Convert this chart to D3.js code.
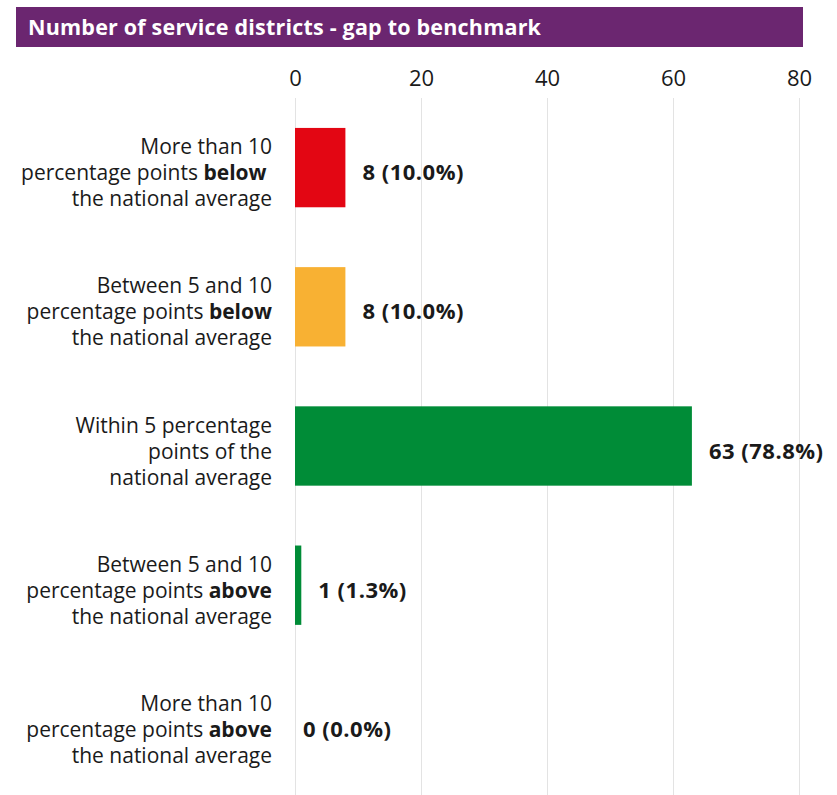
<!DOCTYPE html>
<html>
<head>
<meta charset="utf-8">
<script src="https://cdn.jsdelivr.net/npm/d3@7"></script>
<style>
  body { margin: 0; background: #fff; }
  text { font-family: "Open Sans", sans-serif; fill: #1a1a1a; }
</style>
</head>
<body>
<svg id="chart"></svg>
<script>
var width = 837, height = 795;

// categories: lines of text, *word* marks the bold part
var categories = [
  ["More than 10", "percentage points *below* ", "the national average"],
  ["Between 5 and 10", "percentage points *below*", "the national average"],
  ["Within 5 percentage", "points of the", "national average"],
  ["Between 5 and 10", "percentage points *above*", "the national average"],
  ["More than 10", "percentage points *above*", "the national average"]
];
var counts = [8, 8, 63, 1, 0];
var shares = ["10.0%", "10.0%", "78.8%", "1.3%", "0.0%"];
var colors = ["#e30613", "#f8b133", "#008c37", "#008c37", "#008c37"];
var ticks = [0, 20, 40, 60, 80];
var title = "Number of service districts - gap to benchmark";

var svg = d3.select("#chart").attr("width", width).attr("height", height);

// title bar
svg.append("rect")
  .attr("x", 16).attr("y", 7)
  .attr("width", 787).attr("height", 40)
  .attr("fill", "#6b2670");
svg.append("text")
  .attr("x", 28).attr("y", 35)
  .style("fill", "#fff")
  .style("font-weight", "bold")
  .style("font-size", "21.5px")
  .style("letter-spacing", "0.2px")
  .text(title);

var xScale = d3.scaleLinear().domain([0, 80]).range([295, 799]);
var yScale = d3.scaleBand().domain(d3.range(categories.length))
  .range([98, 794]).paddingInner(0.43).paddingOuter(0.215);

// gridlines
svg.append("g").selectAll("line")
  .data(ticks).enter().append("line")
  .attr("x1", function(d){return xScale(d) + 0.5})
  .attr("x2", function(d){return xScale(d) + 0.5})
  .attr("y1", 98).attr("y2", 795)
  .style("stroke", "#e3e3e3")
  .style("stroke-width", 1);

// top axis labels
var xAxis = d3.axisTop(xScale).tickValues(ticks).tickSize(0).tickPadding(0);
var ax = svg.append("g").attr("transform", "translate(0,86)").call(xAxis);
ax.select(".domain").remove();
ax.selectAll("text")
  .style("font-size", "22px")
  .style("fill", "#1a1a1a")
  .style("font-family", "'Open Sans', sans-serif")
  .attr("dy", 0);

// bars
svg.append("g").selectAll("rect")
  .data(counts).enter().append("rect")
  .attr("x", xScale(0))
  .attr("y", function(d, i){return yScale(i)})
  .attr("width", function(d){return xScale(d) - xScale(0)})
  .attr("height", yScale.bandwidth())
  .attr("fill", function(d, i){return colors[i]});

// value labels
svg.append("g").selectAll("text")
  .data(counts).enter().append("text")
  .attr("x", function(d){return xScale(d) + (d > 0 ? 17 : 8)})
  .attr("y", function(d, i){return yScale(i) + yScale.bandwidth()/2 + 12.5})
  .style("font-weight", "bold")
  .style("font-size", "22px")
  .style("letter-spacing", "0.5px")
  .text(function(d, i){return d + " (" + shares[i] + ")"});

// category labels
var lineH = 26;
categories.forEach(function(lines, i){
  var cy = yScale(i) + yScale.bandwidth()/2 + 12.5;
  var t = svg.append("text")
    .attr("text-anchor", "end")
    .style("font-size", "21px")
    .style("white-space", "pre");
  lines.forEach(function(line, j){
    var tl = t.append("tspan")
      .attr("x", 272)
      .attr("y", cy + (j - 1) * lineH);
    line.split("*").forEach(function(part, k){
      if (part === "") return;
      tl.append("tspan")
        .style("font-weight", k % 2 ? "bold" : "normal")
        .text(part);
    });
  });
});
</script>
</body>
</html>
